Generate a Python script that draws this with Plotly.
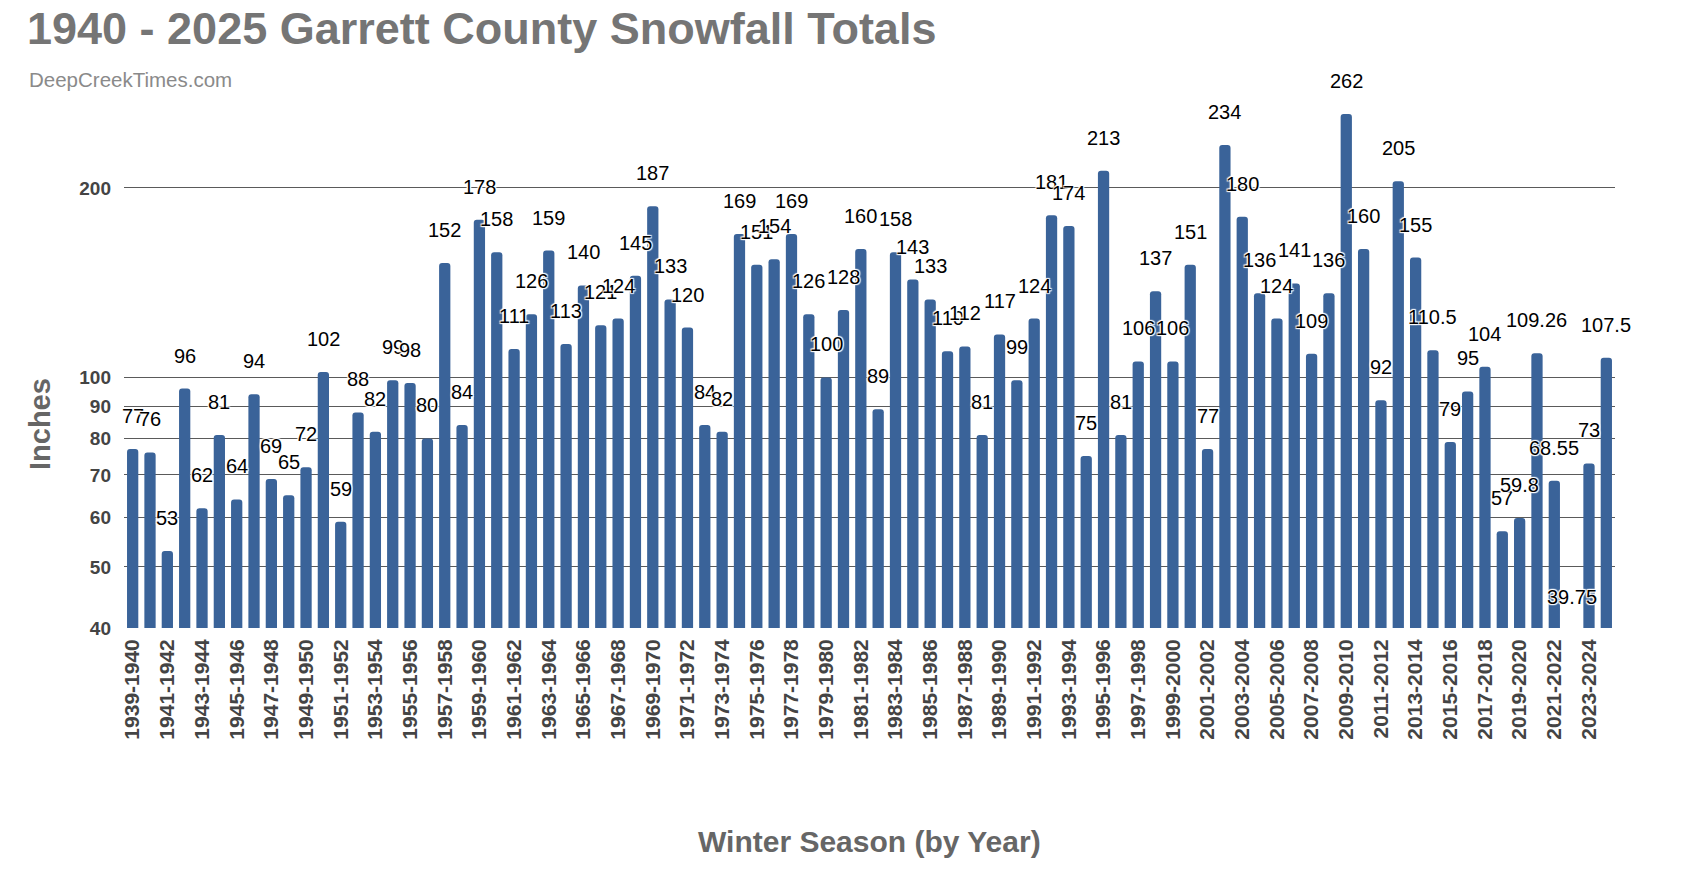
import math
import plotly.graph_objects as go

seasons = [f"{y}-{y+1}" for y in range(1939, 2025)]
snowfall = [
    77, 76, 53, 96, 62, 81, 64, 94, 69, 65, 72,
    102, 59, 88, 82, 99, 98, 80, 152, 84, 178,
    158, 111, 126, 159, 113, 140, 121, 124, 145, 187,
    133, 120, 84, 82, 169, 151, 154, 169, 126, 100,
    128, 160, 89, 158, 143, 133, 110, 112, 81, 117,
    99, 124, 181, 174, 75, 213, 81, 106, 137, 106,
    151, 77, 234, 180, 136, 124, 141, 109, 136, 262,
    160, 92, 205, 155, 110.5, 79, 95, 104, 57, 59.8,
    109.26, 68.55, 39.75, 73, 107.5,
]
value_labels = [f"{v:g}" for v in snowfall]
y_ticks = [40, 50, 60, 70, 80, 90, 100, 200]
y_min, y_max = 40, 300
x_ticks = seasons[::2]

W, H = 1682, 872
L, R, T, B = 124, 67, 77, 244
pw, ph = W - L - R, H - T - B
FONT = "Liberation Sans, Arial, Helvetica"

fig = go.Figure()
fig.add_trace(go.Bar(
    x=seasons, y=snowfall,
    marker=dict(color="#3a6399", cornerradius=3, line=dict(width=0)),
    hoverinfo="x+y",
))

halo = "1px 1px 1px white, -1px -1px 1px white, 1px -1px 1px white, -1px 1px 1px white, 0px 0px 2px white"
lo, hi = math.log10(y_min), math.log10(y_max)
annotations = []
for s, v, t in zip(seasons, snowfall, value_labels):
    lv = math.log10(v)
    a = dict(
        x=s, xref="x", text=t, showarrow=False,
        yshift=33, xanchor="center", yanchor="middle",
        font=dict(family=FONT, size=20, color="#000000", shadow=halo),
    )
    if lv < lo:
        # below the axis floor: place relative to the y domain so it is not hidden
        a.update(y=(lv - lo) / (hi - lo), yref="y domain")
    else:
        a.update(y=lv, yref="y")
    annotations.append(a)

# subtitle
annotations.append(dict(
    x=(27 - L) / pw, y=(H - B - 79) / ph, xref="paper", yref="paper",
    text="DeepCreekTimes.com", showarrow=False, xanchor="left", yanchor="middle",
    font=dict(family=FONT, size=20.5, color="#8a8a8a"),
))
# y-axis title
annotations.append(dict(
    x=(40 - L) / pw, y=(H - B - 424) / ph, xref="paper", yref="paper", text="<b>Inches</b>",
    showarrow=False, textangle=-90, xanchor="center", yanchor="middle",
    font=dict(family=FONT, size=29, color="#666666"),
))
# x-axis title
annotations.append(dict(
    x=0.5, y=(H - B - 841) / ph, xref="paper", yref="paper", text="<b>Winter Season (by Year)</b>",
    showarrow=False, xanchor="center", yanchor="middle",
    font=dict(family=FONT, size=30, color="#666666"),
))

fig.update_layout(
    width=W, height=H,
    margin=dict(l=L, r=R, t=T, b=B, autoexpand=False),
    paper_bgcolor="white", plot_bgcolor="white",
    bargap=0.35,
    showlegend=False,
    title=dict(
        text="<b>1940 - 2025 Garrett County Snowfall Totals</b>",
        x=27 / W, xref="container", xanchor="left",
        y=1 - 12 / H, yref="container", yanchor="top",
        font=dict(family=FONT, size=45, color="#757575"),
        automargin=False,
    ),
    annotations=annotations,
    xaxis=dict(
        type="category",
        range=[-0.5, len(seasons) - 0.5],
        tickmode="array", tickvals=x_ticks, ticktext=x_ticks,
        tickangle=-90,
        tickfont=dict(family=FONT, size=21, color="#444444", weight="bold"),
        showgrid=False, ticks="", ticklabelstandoff=6,
        showline=False, zeroline=False, automargin=False,
    ),
    yaxis=dict(
        type="log",
        range=[lo, hi],
        tickmode="array", tickvals=y_ticks, ticktext=[str(v) for v in y_ticks],
        tickfont=dict(family=FONT, size=19, color="#444444", weight="bold"),
        showgrid=True, gridcolor="#5a5a5a", gridwidth=1,
        ticks="", ticklabelstandoff=12,
        showline=False, zeroline=False, automargin=False,
    ),
)

fig.write_html("out.html")
